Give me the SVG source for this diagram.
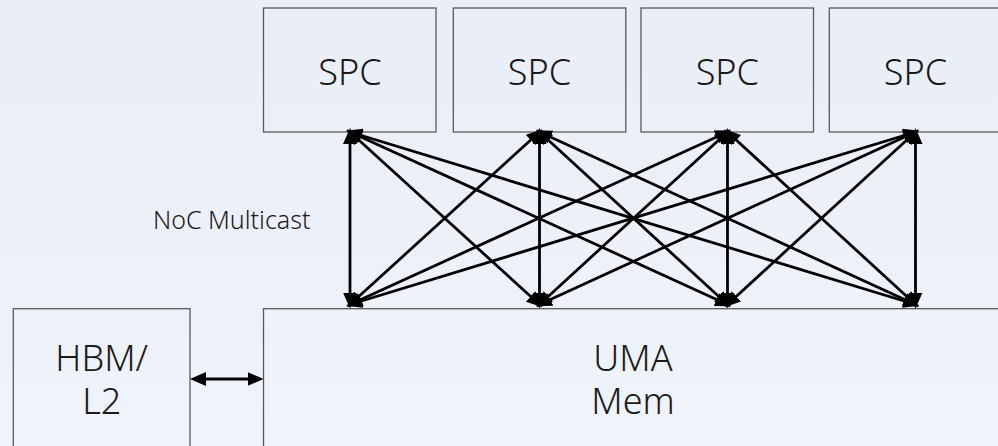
<svg xmlns="http://www.w3.org/2000/svg" width="998" height="446" viewBox="0 0 998 446">
  <defs>
    <linearGradient id="bg" x1="0" y1="0" x2="0" y2="1">
      <stop offset="0" stop-color="#E9EEF7"/>
      <stop offset="1" stop-color="#EFF3FA"/>
    </linearGradient>
    <marker id="head" markerUnits="userSpaceOnUse" markerWidth="16" markerHeight="14" viewBox="0 0 16 14" refX="12" refY="7" orient="auto-start-reverse">
      <path d="M0,0 L16,7 L0,14 z" fill="#000"/>
    </marker>
    <style>
      .box { fill: none; stroke: #595959; stroke-width: 1.3; }
      .lbl { font-family: "Noto Sans", "Open Sans", "Liberation Sans", sans-serif; font-weight: 300; font-size: 36px; fill: #1a1a1a; text-anchor: middle; }
      .note { font-family: "Noto Sans", "Open Sans", "Liberation Sans", sans-serif; font-weight: 300; font-size: 25px; fill: #1a1a1a; }
      .link { stroke: #000; stroke-width: 2.8; fill: none; marker-start: url(#head); marker-end: url(#head); }
    </style>
  </defs>

  <rect x="0" y="0" width="998" height="446" fill="url(#bg)"/>

  <!-- compute nodes -->
  <g id="spc1">
    <rect class="box" x="263.5" y="8" width="172.5" height="124"/>
    <text class="lbl" x="350" y="85">SPC</text>
  </g>
  <g id="spc2">
    <rect class="box" x="453.3" y="8" width="172.5" height="124"/>
    <text class="lbl" x="539.5" y="85">SPC</text>
  </g>
  <g id="spc3">
    <rect class="box" x="641" y="8" width="172.5" height="124"/>
    <text class="lbl" x="727.3" y="85">SPC</text>
  </g>
  <g id="spc4">
    <rect class="box" x="829.3" y="8" width="172.5" height="124"/>
    <text class="lbl" x="915.5" y="85">SPC</text>
  </g>

  <!-- memory nodes -->
  <g id="hbm">
    <rect class="box" x="13.3" y="308.7" width="176.7" height="150"/>
    <text class="lbl" x="101.7" y="371">HBM/</text>
    <text class="lbl" x="101.7" y="414.3">L2</text>
  </g>
  <g id="uma">
    <rect class="box" x="263.5" y="308.7" width="750" height="150"/>
    <text class="lbl" x="633" y="371">UMA</text>
    <text class="lbl" x="633" y="414.3">Mem</text>
  </g>

  <g id="noc-label">
    <text class="note" x="153" y="229.3">NoC Multicast</text>
  </g>

  <!-- all-to-all links between SPCs and UMA, plus HBM link -->
  <g id="connectors">
    <line class="link" x1="350" y1="132" x2="350" y2="304.5"/>
    <line class="link" x1="350" y1="132" x2="539.5" y2="304.5"/>
    <line class="link" x1="350" y1="132" x2="727.5" y2="304.5"/>
    <line class="link" x1="350" y1="132" x2="915.5" y2="304.5"/>

    <line class="link" x1="539.5" y1="132" x2="350" y2="304.5"/>
    <line class="link" x1="539.5" y1="132" x2="539.5" y2="304.5"/>
    <line class="link" x1="539.5" y1="132" x2="727.5" y2="304.5"/>
    <line class="link" x1="539.5" y1="132" x2="915.5" y2="304.5"/>

    <line class="link" x1="727.5" y1="132" x2="350" y2="304.5"/>
    <line class="link" x1="727.5" y1="132" x2="539.5" y2="304.5"/>
    <line class="link" x1="727.5" y1="132" x2="727.5" y2="304.5"/>
    <line class="link" x1="727.5" y1="132" x2="915.5" y2="304.5"/>

    <line class="link" x1="915.5" y1="132" x2="350" y2="304.5"/>
    <line class="link" x1="915.5" y1="132" x2="539.5" y2="304.5"/>
    <line class="link" x1="915.5" y1="132" x2="727.5" y2="304.5"/>
    <line class="link" x1="915.5" y1="132" x2="915.5" y2="304.5"/>

    <line class="link" x1="194" y1="379" x2="259.5" y2="379"/>
  </g>
</svg>
